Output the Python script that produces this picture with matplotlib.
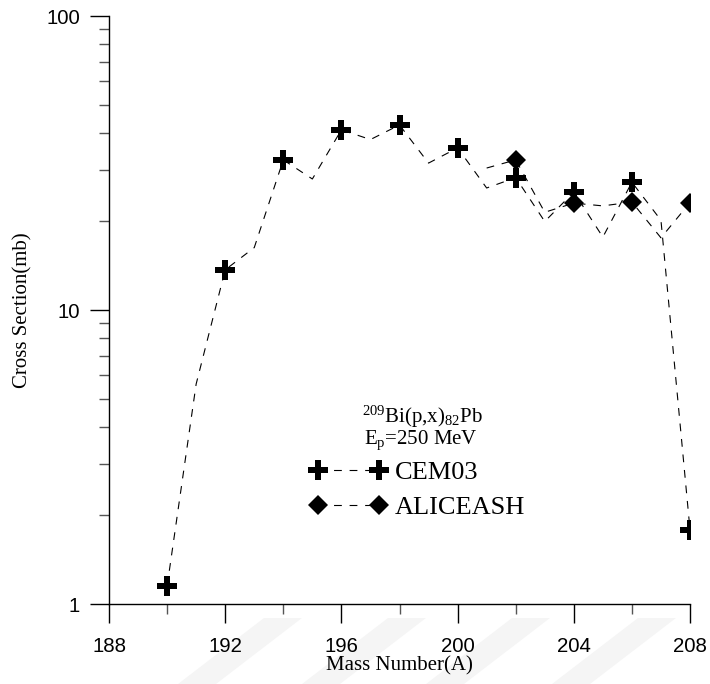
import numpy as np
import matplotlib
matplotlib.use("Agg")
import matplotlib.pyplot as plt
from matplotlib.patches import Polygon
from matplotlib.ticker import FixedLocator, NullFormatter

# Cross sections (mb) for Pb isotopes from 209Bi(p,x) at Ep = 250 MeV
cem_A = [190, 191, 192, 193, 194, 195, 196, 197, 198, 199,
         200, 201, 202, 203, 204, 205, 206, 207, 208]
cem_sigma = [1.15, 5.6, 13.7, 16.3, 32.4, 27.9, 41.0, 38.0, 42.6, 31.6,
             35.6, 26.0, 28.2, 20.0, 25.2, 17.7, 27.2, 20.2, 1.79]

alice_A = [201, 202, 203, 204, 205, 206, 207, 208]
alice_sigma = [30.4, 32.4, 21.5, 23.1, 22.6, 23.3, 17.6, 23.2]

x_ticks = [188, 192, 196, 200, 204, 208]
y_ticks = [1, 10, 100]
y_tick_labels = ["1", "10", "100"]

plt.rcParams["mathtext.fontset"] = "custom"
plt.rcParams["mathtext.rm"] = "Liberation Serif"
plt.rcParams["mathtext.it"] = "Liberation Serif:italic"

W, H = 710, 684
fig = plt.figure(figsize=(W / 100, H / 100), dpi=100)

# faint diagonal watermark stripes along the bottom edge
for x0 in [264, 388, 512, 638]:
    pts = [(x0, 618), (x0 + 38, 618), (x0 + 38 - 86, 684), (x0 - 86, 684)]
    pts = [(px / W, 1 - py / H) for px, py in pts]
    fig.patches.append(Polygon(pts, closed=True, transform=fig.transFigure,
                               facecolor="#f5f5f5", edgecolor="none", zorder=0))

ax = fig.add_axes([109 / W, 80 / H, 581 / W, 588 / H])
ax.set_zorder(2)
ax.patch.set_alpha(0)

dash = (0, (7, 7))
even_cem = [i for i, a in enumerate(cem_A) if a % 2 == 0]
even_alice = [i for i, a in enumerate(alice_A) if a % 2 == 0]

ax.plot(cem_A, cem_sigma, color="black", lw=0.8, linestyle=dash,
        marker="P", markersize=14.5, markevery=even_cem,
        markerfacecolor="black", markeredgecolor="black", markeredgewidth=0,
        label="CEM03", zorder=3)
ax.plot(alice_A, alice_sigma, color="black", lw=0.8, linestyle=dash,
        marker="D", markersize=9.8, markevery=even_alice,
        markerfacecolor="black", markeredgecolor="black", markeredgewidth=0,
        label="ALICEASH", zorder=3)

ax.set_yscale("log")
ax.set_xlim(188, 208)
ax.set_ylim(1, 100)

for s in ["top", "right"]:
    ax.spines[s].set_visible(False)
for s in ["left", "bottom"]:
    ax.spines[s].set_linewidth(1.0)

ax.xaxis.set_major_locator(FixedLocator(x_ticks))
ax.xaxis.set_minor_locator(FixedLocator([190, 194, 198, 202, 206]))
ax.yaxis.set_major_locator(FixedLocator(y_ticks))
ax.set_yticklabels(y_tick_labels)
ax.yaxis.set_minor_locator(FixedLocator(
    [m * d for d in (1, 10) for m in range(2, 10)]))
ax.yaxis.set_minor_formatter(NullFormatter())

ax.tick_params(which="major", direction="out", length=14, width=1.0,
               labelsize=14.7, color="black")
ax.tick_params(which="minor", direction="out", length=7, width=1.0,
               color="#555555")
ax.tick_params(axis="x", which="major", pad=10)
ax.tick_params(axis="y", which="major", pad=7)
for lab in ax.get_xticklabels() + ax.get_yticklabels():
    lab.set_fontfamily("Liberation Sans")

ax.set_xlabel("Mass Number(A)", fontfamily="Liberation Serif",
              fontsize=15, labelpad=0)
ax.set_ylabel("Cross Section(mb)", fontfamily="Liberation Serif",
              fontsize=15, labelpad=10)

fig.text(422 / W, 1 - 417 / H, r"$^{209}$Bi(p,x)$_{82}$Pb",
         ha="center", va="center", fontfamily="Liberation Serif", fontsize=15)
fig.text(421 / W, 1 - 440 / H, r"E$_{\mathrm{p}}$=250 MeV",
         ha="center", va="center", fontfamily="Liberation Serif", fontsize=15)

leg = ax.legend(loc="center left", bbox_to_anchor=(310 / W, 1 - 490 / H),
                bbox_transform=fig.transFigure, numpoints=2, frameon=False,
                handlelength=2.9, handletextpad=0.3, labelspacing=0.45,
                borderpad=0, borderaxespad=0,
                prop={"family": "Liberation Serif", "size": 19})

fig.savefig("out.png", dpi=100)
